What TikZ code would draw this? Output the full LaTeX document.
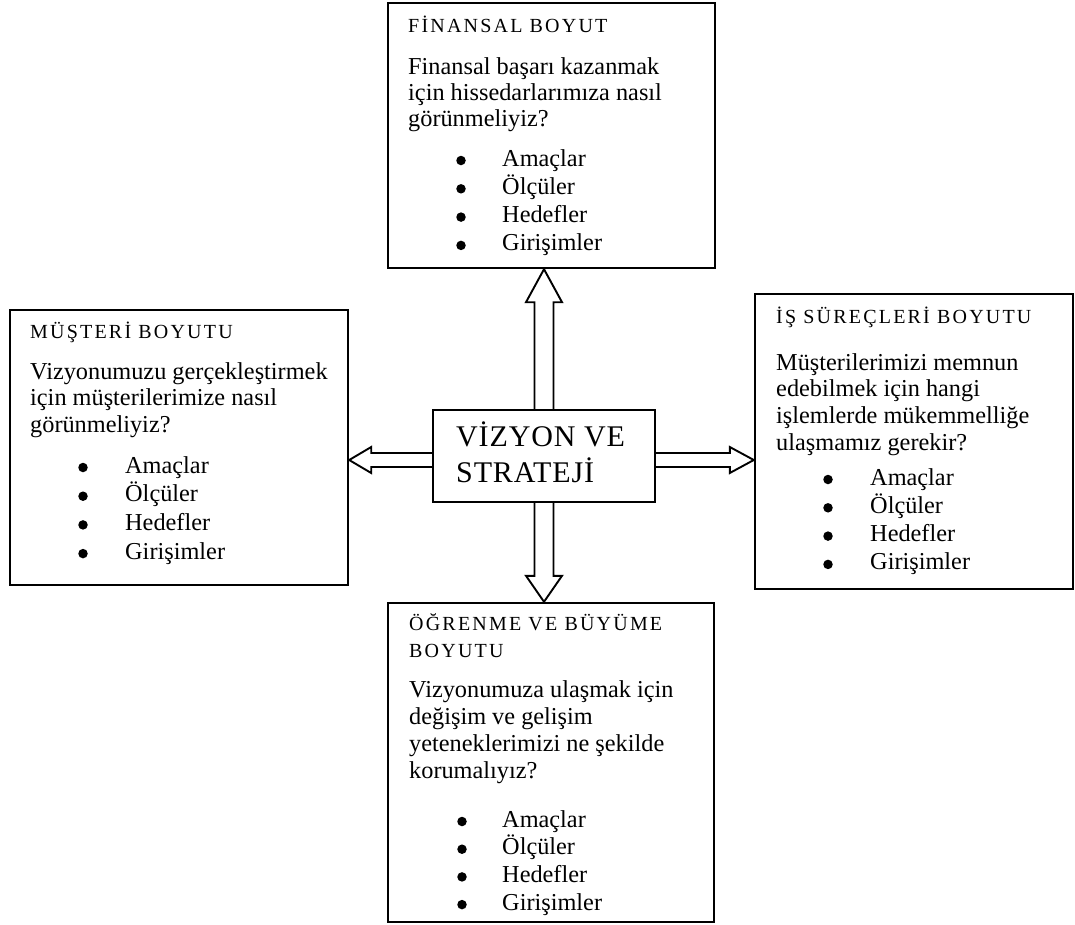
\documentclass[tikz,border=0pt]{standalone}
\usepackage{fontspec}
\setmainfont{Liberation Serif}
\newfontfamily\hdfam[LetterSpace=11]{Liberation Serif}
\newfontfamily\vzfam[LetterSpace=3]{Liberation Serif}
\newcommand\hdfont{\hdfam\fontsize{20}{24}\selectfont}
\newcommand\qfont{\fontsize{24.3}{28}\selectfont}
\newcommand\vzfont{\vzfam\fontsize{30}{36}\selectfont}
\usetikzlibrary{calc}

\tikzset{
  panel/.style={draw, line width=2.4pt, inner sep=0pt, rectangle},
  core/.style={draw, line width=2.2pt, inner sep=0pt, rectangle},
  head/.style={anchor=base west, inner sep=0pt, font=\hdfont},
  ask/.style={anchor=base west, inner sep=0pt, font=\qfont},
  dot/.style={circle, fill, inner sep=0pt, minimum size=9.5pt},
  item/.style={anchor=base west, inner sep=0pt, font=\qfont},
  vz/.style={anchor=base west, inner sep=0pt, font=\vzfont},
  fat/.style={draw, line width=1.9pt, line join=miter},
}

% the four measures listed in every panel
\newcommand\itemlist[5]{%
  \foreach \t [count=\i] in {Amaçlar,Ölçüler,Hedefler,Girişimler}{%
    \node[dot]  (#1-d\i) at (#2,{#4+#5*(\i-1)-5.5}) {};
    \node[item] (#1-i\i) at (#3,{#4+#5*(\i-1)}) {\t};
  }%
}

\begin{document}
\begin{tikzpicture}[x=1pt,y=-1pt]
\useasboundingbox (0,0) rectangle (1075,924);

% panels
\node[panel, minimum width=327pt, minimum height=265pt] (fin) at (551.5,135.5) {};
\node[panel, minimum width=338pt, minimum height=275pt] (mus) at (179,447.5) {};
\node[panel, minimum width=318pt, minimum height=295pt] (isp) at (914,441.5) {};
\node[panel, minimum width=326pt, minimum height=319pt] (ogr) at (551,762.5) {};
\node[core,  minimum width=222pt, minimum height=92pt]  (viz) at (544,456) {};

% hollow arrows from the centre outwards
\draw[fat] let \p1=(viz.north), \p2=(fin.south) in
  (\x1-9.5pt,\y1) -- (\x1-9.5pt,\y2-33pt) -- (\x1-18pt,\y2-33pt) -- (\x1,\y2)
  -- (\x1+18pt,\y2-33pt) -- (\x1+9.5pt,\y2-33pt) -- (\x1+9.5pt,\y1);
\draw[fat] let \p1=(viz.south), \p2=(ogr.north) in
  (\x1-9.5pt,\y1) -- (\x1-9.5pt,\y2+26pt) -- (\x1-18pt,\y2+26pt) -- (\x1,\y2)
  -- (\x1+18pt,\y2+26pt) -- (\x1+9.5pt,\y2+26pt) -- (\x1+9.5pt,\y1);
\draw[fat] let \p1=($(viz.west)+(0,4)$), \p2=(mus.east) in
  (\x1,\y1+7pt) -- (\x2+22pt,\y1+7pt) -- (\x2+22pt,\y1+13pt) -- (\x2,\y1)
  -- (\x2+22pt,\y1-13pt) -- (\x2+22pt,\y1-7pt) -- (\x1,\y1-7pt);
\draw[fat] let \p1=($(viz.east)+(0,4)$), \p2=(isp.west) in
  (\x1,\y1+7pt) -- (\x2-24pt,\y1+7pt) -- (\x2-24pt,\y1+13pt) -- (\x2,\y1)
  -- (\x2-24pt,\y1-13pt) -- (\x2-24pt,\y1-7pt) -- (\x1,\y1-7pt);

% centre
\node[vz] (viz-1) at (456,446) {VİZYON VE};
\node[vz] (viz-2) at (456,482) {STRATEJİ};

% financial
\node[head] (fin-h) at (408,32) {FİNANSAL BOYUT};
\foreach \t [count=\i] in {Finansal başarı kazanmak,için hissedarlarımıza nasıl,görünmeliyiz?}
  \node[ask] (fin-q\i) at (408,{74+26*(\i-1)}) {\t};
\itemlist{fin}{461}{502}{166}{28.3}

% customer
\node[head] (mus-h) at (30,338) {MÜŞTERİ BOYUTU};
\foreach \t [count=\i] in {Vizyonumuzu gerçekleştirmek,için müşterilerimize nasıl,görünmeliyiz?}
  \node[ask] (mus-q\i) at (30,{379+26.5*(\i-1)}) {\t};
\itemlist{mus}{83}{125}{473}{28.7}

% internal processes
\node[head] (isp-h) at (776,323) {İŞ SÜREÇLERİ BOYUTU};
\foreach \t [count=\i] in {Müşterilerimizi memnun,edebilmek için hangi,işlemlerde mükemmelliğe,ulaşmamız gerekir?}
  \node[ask] (isp-q\i) at (776,{370+26.7*(\i-1)}) {\t};
\itemlist{isp}{828}{870}{485}{28.3}

% learning and growth
\node[head] (ogr-h1) at (409,630) {ÖĞRENME VE BÜYÜME};
\node[head] (ogr-h2) at (409,657) {BOYUTU};
\foreach \t [count=\i] in {Vizyonumuza ulaşmak için,değişim ve gelişim,yeteneklerimizi ne şekilde,korumalıyız?}
  \node[ask] (ogr-q\i) at (409,{697+27*(\i-1)}) {\t};
\itemlist{ogr}{462}{502}{827}{27.7}
\end{tikzpicture}
\end{document}
